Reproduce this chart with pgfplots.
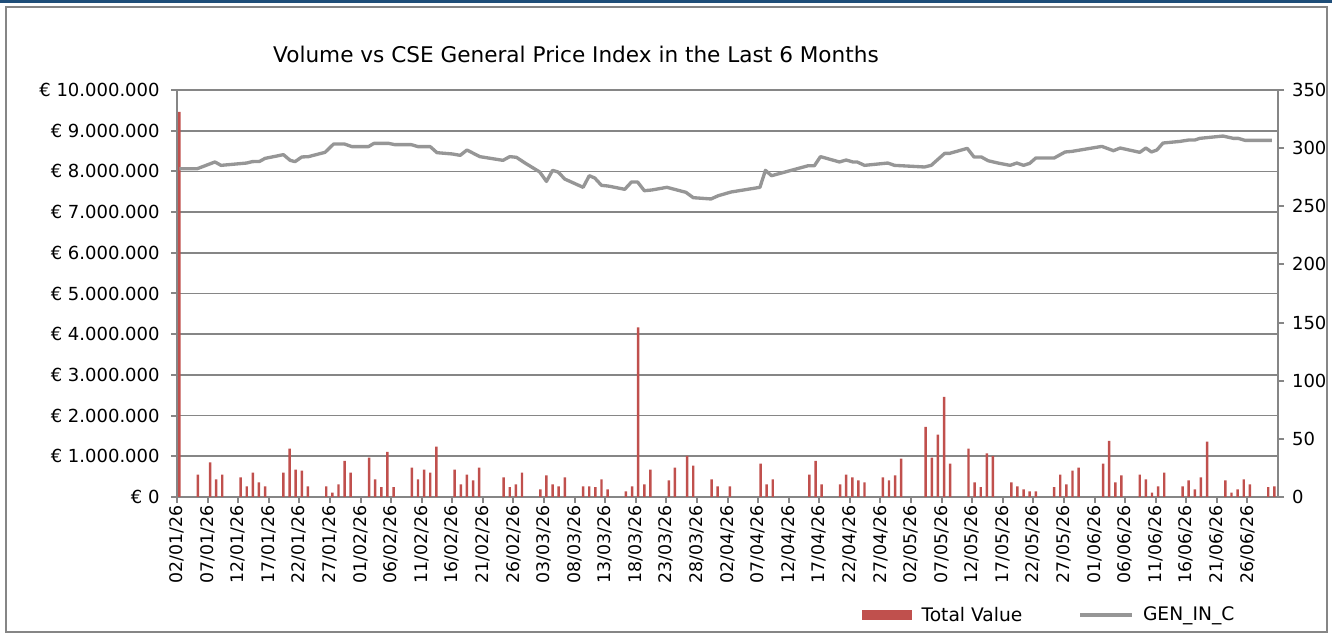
\documentclass[border=0pt]{standalone}
\usepackage{pgfplots}
\pgfplotsset{compat=1.18}
\usepackage{pgfplotstable}
\usepackage{fontspec}
\setmainfont{DejaVu Sans}

\definecolor{barred}{HTML}{C0504D}
\definecolor{idxgray}{HTML}{969696}
\definecolor{gridgray}{HTML}{868686}
\definecolor{frameblue}{HTML}{1F4E79}

\pgfplotsset{
  barlegend/.style={legend image code/.code={\fill[##1] (0pt,-4pt) rectangle (38pt,4pt);}},
  linelegend/.style={legend image code/.code={\draw[##1] (0pt,0pt) -- (39pt,0pt);}},
}

% daily traded value, in millions of euro (day 0 = 02/01/26)
\pgfplotstableread{
d v
0 9.46
3 0.55
5 0.85
6 0.43
7 0.55
10 0.48
11 0.26
12 0.60
13 0.36
14 0.26
17 0.60
18 1.19
19 0.67
20 0.65
21 0.26
24 0.26
25 0.11
26 0.31
27 0.89
28 0.60
31 0.97
32 0.43
33 0.24
34 1.11
35 0.24
38 0.72
39 0.43
40 0.67
41 0.60
42 1.24
45 0.67
46 0.31
47 0.55
48 0.41
49 0.72
53 0.48
54 0.24
55 0.31
56 0.60
59 0.19
60 0.53
61 0.31
62 0.26
63 0.48
66 0.26
67 0.26
68 0.24
69 0.43
70 0.19
73 0.14
74 0.26
75 4.17
76 0.31
77 0.67
80 0.41
81 0.72
83 1.01
84 0.77
87 0.43
88 0.26
90 0.26
95 0.82
96 0.31
97 0.43
103 0.55
104 0.89
105 0.31
108 0.31
109 0.55
110 0.48
111 0.41
112 0.36
115 0.48
116 0.41
117 0.53
118 0.94
122 1.72
123 0.97
124 1.53
125 2.46
126 0.82
129 1.19
130 0.36
131 0.24
132 1.07
133 1.01
136 0.36
137 0.26
138 0.19
139 0.14
140 0.14
143 0.24
144 0.55
145 0.31
146 0.65
147 0.72
151 0.82
152 1.38
153 0.36
154 0.53
157 0.55
158 0.43
159 0.11
160 0.26
161 0.60
164 0.26
165 0.41
166 0.19
167 0.48
168 1.36
171 0.41
172 0.11
173 0.19
174 0.43
175 0.31
178 0.24
179 0.26
}\volumedata

% GEN_IN_C index
\pgfplotstableread{
x y
0.4 282.3
3.3 282.3
6.2 288.1
7.2 285.2
11.4 287.2
12.3 288.4
13.5 288.6
14.4 291.2
17.4 294.4
18.5 289.5
19.3 288.4
20.4 292.4
21.5 292.7
24.2 296.4
25.6 303.5
27.4 303.5
28.6 301.3
31.3 301.3
32.2 304.1
34.6 304.1
35.6 303.0
38.3 303.0
39.4 301.3
41.4 301.3
42.5 296.1
45.0 295.0
46.3 293.8
47.4 298.4
49.5 292.7
53.3 289.5
54.4 292.7
55.5 292.1
56.9 287.2
59.3 279.5
60.4 271.4
61.4 280.9
62.3 279.5
63.4 273.4
66.4 266.3
67.4 276.3
68.3 274.3
69.4 268.0
70.5 267.4
73.2 264.6
74.3 270.9
75.3 270.9
76.4 263.4
77.6 264.0
80.1 266.3
83.2 262.0
84.4 257.4
87.3 256.3
88.5 259.1
90.6 262.3
95.3 266.3
96.2 280.9
97.2 276.3
103.2 284.9
104.2 284.9
105.2 292.7
108.3 288.1
109.4 289.8
110.5 288.1
111.2 288.1
112.4 285.2
116.2 287.2
117.3 285.2
122.2 283.8
123.3 285.2
125.5 295.5
126.3 295.5
129.2 299.8
130.3 292.4
131.5 292.4
132.6 289.2
134.2 287.2
136.2 285.2
137.3 287.2
138.4 285.2
139.4 286.9
140.4 291.5
143.4 291.5
145.2 296.7
146.3 297.2
151.2 301.5
153.1 297.8
154.2 300.1
157.4 296.4
158.4 300.1
159.3 296.7
160.2 298.4
161.2 304.4
164.0 305.8
165.4 307.0
166.4 307.0
167.2 308.4
171.0 310.4
172.7 308.4
173.5 308.4
174.6 306.7
179.0 306.7
}\gendata

\begin{document}
\begin{tikzpicture}
\path[use as bounding box] (0pt,0pt) rectangle (999pt,476.25pt);
\draw[frameblue, line width=2pt] (0pt,475.2pt) -- (999pt,475.2pt);
\draw[gridgray, line width=1.1pt] (4.5pt,2.25pt) rectangle (995.25pt,471pt);

\begin{axis}[
    at={(132.75pt,103.5pt)}, anchor=south west,
    scale only axis, width=825.75pt, height=305.25pt,
    xmin=0, xmax=180, ymin=0, ymax=10,
    axis x line*=bottom, axis y line*=left,
    axis line style={-, gridgray, line width=1.5pt},
    tick style={gridgray, line width=1.5pt},
    tick align=outside, major tick length=4.5pt,
    ymajorgrids, major grid style={gridgray, line width=1.3pt},
    ytick={0,1,...,10},
    yticklabels={€ 0,€ 1.000.000,€ 2.000.000,€ 3.000.000,€ 4.000.000,€ 5.000.000,€ 6.000.000,€ 7.000.000,€ 8.000.000,€ 9.000.000,€ 10.000.000},
    yticklabel style={font=\fontsize{13.5}{15}\selectfont, xshift=-5pt},
    xtick={0,5,...,175},
    xticklabels={02/01/26,07/01/26,12/01/26,17/01/26,22/01/26,27/01/26,01/02/26,06/02/26,11/02/26,16/02/26,21/02/26,26/02/26,03/03/26,08/03/26,13/03/26,18/03/26,23/03/26,28/03/26,02/04/26,07/04/26,12/04/26,17/04/26,22/04/26,27/04/26,02/05/26,07/05/26,12/05/26,17/05/26,22/05/26,27/05/26,01/06/26,06/06/26,11/06/26,16/06/26,21/06/26,26/06/26},
    xticklabel style={rotate=90, anchor=east, font=\fontsize{13}{15}\selectfont, xshift=1.5pt},
]
\addplot[ybar, bar width=0.4, fill=barred, draw=none] table[x expr=\thisrow{d}+0.4, y=v] {\volumedata};
\end{axis}

\begin{axis}[
    at={(132.75pt,103.5pt)}, anchor=south west,
    scale only axis, width=825.75pt, height=305.25pt,
    xmin=0, xmax=180, ymin=0, ymax=350,
    axis x line=none, axis y line*=right,
    axis line style={-, gridgray, line width=1.5pt},
    tick style={gridgray, line width=1.5pt},
    tick align=outside, major tick length=4.5pt,
    ytick={0,50,...,350},
    /pgf/number format/assume math mode=true,
    yticklabel style={font=\fontsize{13.5}{15}\selectfont, xshift=2.5pt},
    legend style={at={(0.6215,-0.29)}, anchor=west, draw=none, fill=none,
      font=\fontsize{14}{16}\selectfont, inner sep=0pt,
      /tikz/every odd column/.append style={column sep=5pt},
      /tikz/every even column/.append style={column sep=40pt}},
    legend columns=2,
]
\addlegendimage{barlegend, fill=barred, draw=none}
\addlegendentry{Total Value}
\addplot[idxgray, line width=2.5pt, line join=round, linelegend] table[x=x, y=y] {\gendata};
\addlegendentry{GEN\_IN\_C}
\end{axis}

\node[font=\fontsize{16.2}{19}\selectfont, anchor=base] at (432pt,429pt) {Volume vs CSE General Price Index in the Last 6 Months};
\end{tikzpicture}
\end{document}
